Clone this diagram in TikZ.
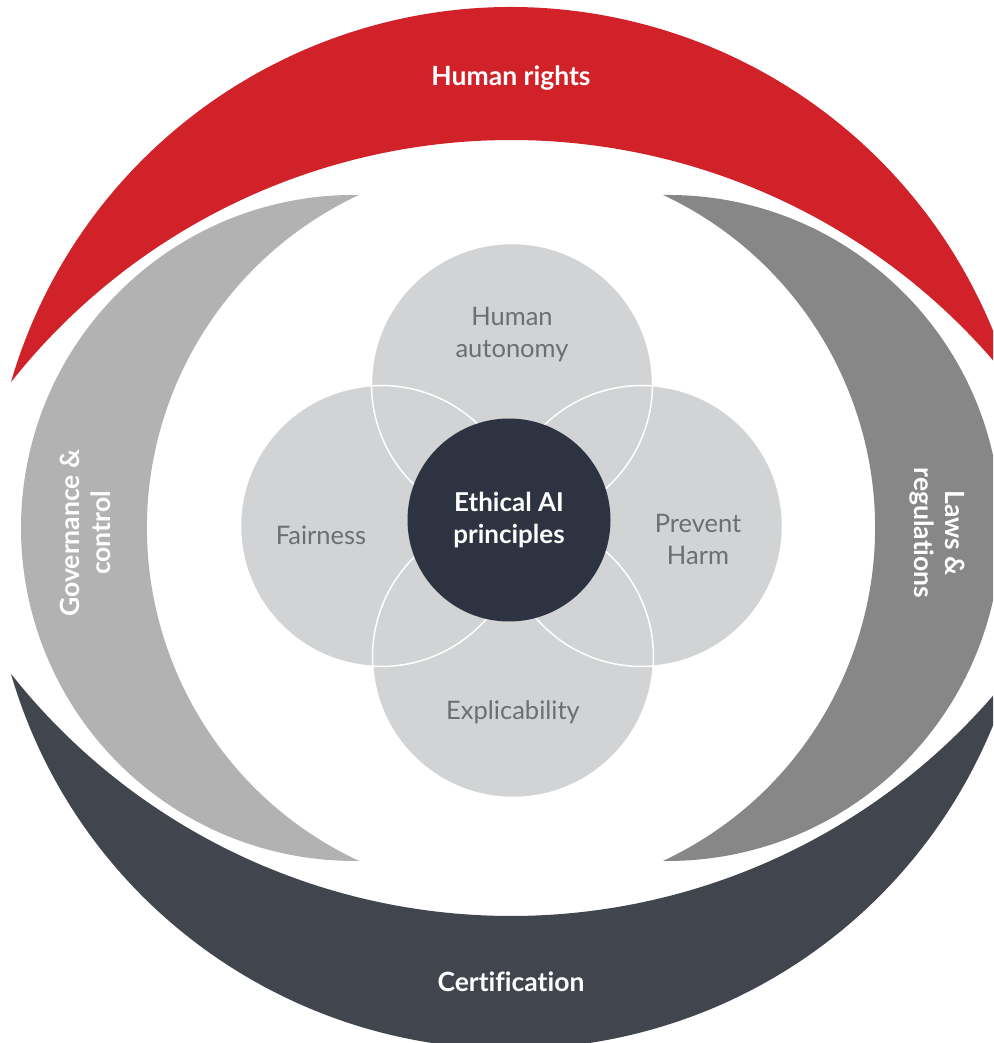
\documentclass[tikz,border=0pt]{standalone}
\usepackage{fontspec}
\setmainfont{Lato}[Ligatures=CommonOff]
\definecolor{rightsred}{HTML}{D1222A}
\definecolor{govgray}{HTML}{B2B2B2}
\definecolor{lawgray}{HTML}{878787}
\definecolor{certdark}{HTML}{41454E}
\definecolor{petalgray}{HTML}{D1D3D4}
\definecolor{coredark}{HTML}{2E3342}
\definecolor{labelgray}{HTML}{6D6E71}

\begin{document}
\begin{tikzpicture}[x=1pt,y=1pt,
  bandtext/.style={text=white,font=\bfseries\fontsize{26.5}{31}\selectfont,align=center},
  petal/.style={circle,fill=petalgray,minimum size=281pt,inner sep=0pt},
  petaltext/.style={text=labelgray,font=\fontsize{25.5}{32}\selectfont,align=center}]
  \useasboundingbox (-511,-515) rectangle (482,528);
  \clip (-511,-515) rectangle (482,528);
  \fill[rightsred] (163.72:520.9) arc[start angle=163.72,end angle=16.28,radius=520.9]
    arc[start angle=38.35,end angle=141.65,radius=637.5] -- cycle;
  \fill[certdark] (196.28:520.9) arc[start angle=196.28,end angle=343.72,radius=520.9]
    arc[start angle=-38.35,end angle=-141.65,radius=637.5] -- cycle;
  \fill[govgray] (-152,333) arc[start angle=89.14,end angle=270.86,radius=333]
    arc[start angle=244.97,end angle=115.03,radius=367.5] -- cycle;
  \fill[lawgray] (152,333) arc[start angle=90.86,end angle=-90.86,radius=333]
    arc[start angle=-64.97,end angle=64.97,radius=367.5] -- cycle;
  \node[bandtext] (rights) at (0,450) {Human rights};
  \node[bandtext] (cert) at (0,-454) {Certification};
  \node[bandtext,rotate=90] (gov) at (-426,-5) {Governance \&\\control};
  \node[bandtext,rotate=-90] (laws) at (426,-5) {Laws \&\\regulations};
  \node[petal] (auto) at (1,144) {};
  \node[petal] (fair) at (-130,2) {};
  \node[petal] (harm) at (131,2) {};
  \node[petal] (expl) at (2,-129) {};
  \foreach \p in {auto,fair,harm,expl}
    \draw[white,line width=1.5pt] (\p.center) circle[radius=140.5];
  \node[circle,fill=coredark,minimum size=203pt,inner sep=0pt,text=white,
    font=\bfseries\fontsize{26}{32}\selectfont,align=center] (core) at (-2,8) {Ethical AI\\principles};
  \node[petaltext] (autotext) at ([yshift=49pt]auto.center) {Human\\autonomy};
  \node[petaltext] (fairtext) at ([shift={(-60pt,-9pt)}]fair.center) {Fairness};
  \node[petaltext] (harmtext) at ([shift={(56pt,-13pt)}]harm.center) {Prevent\\Harm};
  \node[petaltext] (expltext) at ([yshift=-55pt]expl.center) {Explicability};
\end{tikzpicture}
\end{document}
